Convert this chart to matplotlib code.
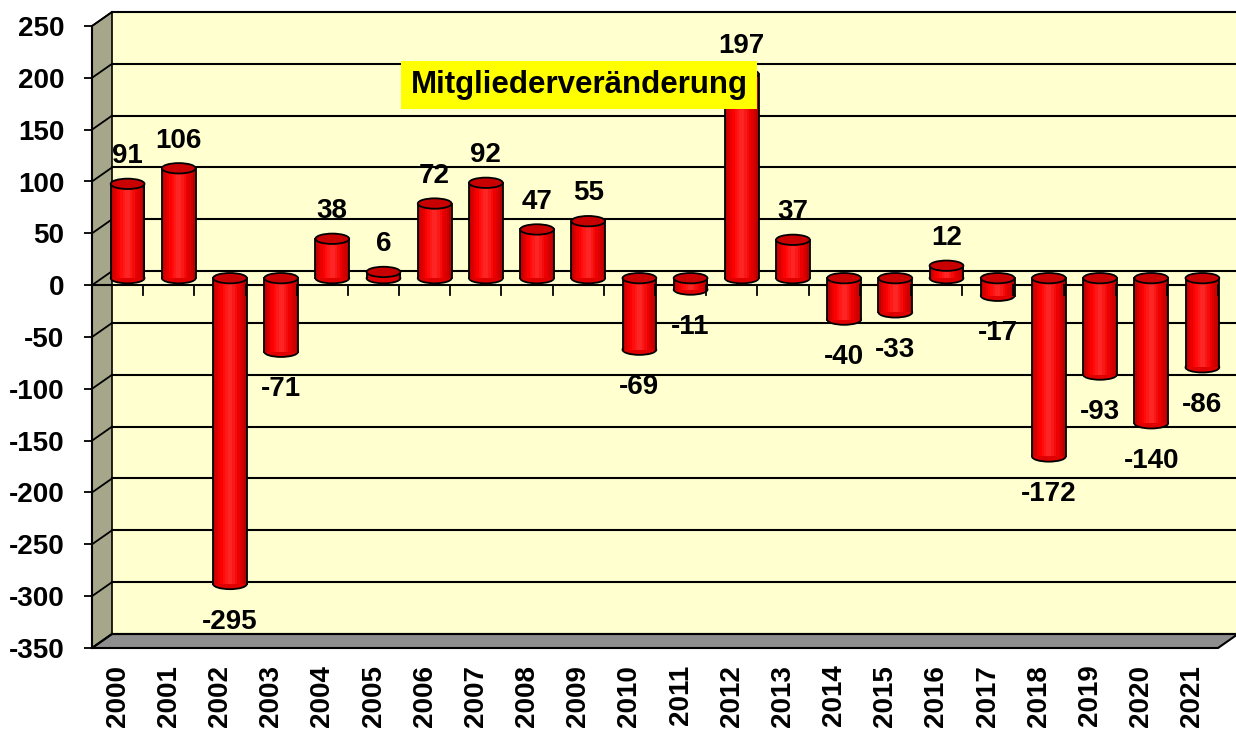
import matplotlib
matplotlib.use("Agg")
import matplotlib.pyplot as plt
from matplotlib.patches import Rectangle, Ellipse, Polygon
from matplotlib.transforms import ScaledTranslation, IdentityTransform
from matplotlib.colors import LinearSegmentedColormap

# Daten
jahre = [str(j) for j in range(2000, 2022)]
werte = [91, 106, -295, -71, 38, 6, 72, 92, 47, 55, -69, -11, 197, 37, -40, -33, 12, -17, -172, -93, -140, -86]
y_ticks = list(range(-350, 251, 50))
titel = "Mitgliederveränderung"

plt.rcParams['font.family'] = ['Liberation Sans', 'DejaVu Sans']
plt.rcParams['font.weight'] = 'bold'
fs = 20

W, H = 1236, 730
fig = plt.figure(figsize=(W / 100, H / 100), dpi=100)
ax = fig.add_axes([92 / W, 82 / H, (1218 - 92) / W, (648 - 26) / H])
ax.set_xlim(-0.5, len(jahre) - 0.5)
ax.set_ylim(-350, 250)
ax.set_facecolor('none')

# 3D-Tiefe: hinten und Mitte (Säulen)
hinten = ax.transData + ScaledTranslation(0.20, 0.14, fig.dpi_scale_trans)
mitte = ax.transData + ScaledTranslation(0.10, 0.07, fig.dpi_scale_trans)

def disp(x, y, t):
    return t.transform((x, y))

x0, x1 = -0.5, len(jahre) - 0.5
y0, y1 = -350, 250
wand = '#FFFFD0'

# Rückwand
ax.add_patch(Rectangle((x0, y0), x1 - x0, y1 - y0, transform=hinten, facecolor=wand,
                       edgecolor='none', clip_on=False, zorder=0))
# Seitenwand links
seite = [disp(x0, y1, ax.transData), disp(x0, y1, hinten), disp(x0, y0, hinten), disp(x0, y0, ax.transData)]
ax.add_patch(Polygon(seite, closed=True, transform=IdentityTransform(), facecolor='#A6A68A',
                     edgecolor='black', lw=1.2, clip_on=False, zorder=1))
# Boden
boden = [disp(x0, y0, ax.transData), disp(x1, y0, ax.transData), disp(x1, y0, hinten), disp(x0, y0, hinten)]
ax.add_patch(Polygon(boden, closed=True, transform=IdentityTransform(), facecolor='#8E8E8E',
                     edgecolor='black', lw=1.5, clip_on=False, zorder=1))

# Gitterlinien hinten + Diagonalen auf der Seitenwand
for v in y_ticks:
    ax.plot([x0, x1], [v, v], color='black', lw=1.5, transform=hinten, clip_on=False, zorder=1)
    a = disp(x0, v, ax.transData)
    b = disp(x0, v, hinten)
    ax.plot([a[0], b[0]], [a[1], b[1]], color='black', lw=1.3, transform=IdentityTransform(),
            clip_on=False, zorder=2)

# Nulllinie vorne
ax.plot([x0, x1], [0, 0], color='black', lw=1.5, zorder=2, clip_on=False)

# Säulen (Zylinder)
breite = 0.66
eh = 10
cmap = LinearSegmentedColormap.from_list('rot', ['#B80000', '#FF0000', '#FF2A2A', '#F00000', '#B00000'])
n_streifen = 14
for i, v in enumerate(werte):
    unten = min(0, v)
    oben = max(0, v)
    links = i - breite / 2
    ax.add_patch(Ellipse((i, unten), breite, eh, transform=mitte, facecolor='#E00000',
                         edgecolor='black', lw=1.3, zorder=3, clip_on=False))
    sw = breite / n_streifen
    for k in range(n_streifen):
        ax.add_patch(Rectangle((links + k * sw, unten), sw * 1.05, oben - unten, transform=mitte,
                               facecolor=cmap((k + 0.5) / n_streifen), edgecolor='none',
                               zorder=4, clip_on=False))
    ax.plot([links, links], [unten, oben], color='black', lw=1.3, transform=mitte, zorder=5, clip_on=False)
    ax.plot([links + breite] * 2, [unten, oben], color='black', lw=1.3, transform=mitte, zorder=5, clip_on=False)
    ax.add_patch(Ellipse((i, oben), breite, eh, transform=mitte, facecolor='#C80000',
                         edgecolor='black', lw=1.3, zorder=6, clip_on=False))
    if v >= 0:
        off = (7.2, 25)
    else:
        off = (7.2, -22)
    ax.annotate(str(v), xy=(i, v), xytext=off, textcoords='offset points', ha='center', va='center',
                fontsize=fs, fontweight='bold', zorder=8, annotation_clip=False)

# Teilstriche an der Nulllinie
for i in range(1, len(jahre) + 1):
    a = disp(i - 0.5, 0, ax.transData)
    ax.plot([a[0], a[0]], [a[1], a[1] - 10], color='black', lw=1.3, transform=IdentityTransform(),
            zorder=7, clip_on=False)

# Achsen
for s in ['top', 'right', 'bottom']:
    ax.spines[s].set_visible(False)
ax.spines['left'].set_linewidth(1.5)
ax.spines['left'].set_zorder(2)
ax.set_yticks(y_ticks)
ax.set_yticklabels([str(t) for t in y_ticks], fontsize=fs, fontweight='bold')
ax.tick_params(axis='y', length=6, width=1.3, pad=14)
ax.set_xticks(range(len(jahre)))
ax.set_xticklabels(jahre, rotation=90, fontsize=fs, fontweight='bold')
ax.tick_params(axis='x', length=0, pad=12)

# Titel im gelben Kasten
fig.text(579 / W, 1 - 85 / H, titel, ha='center', va='center', fontsize=22.5, fontweight='bold',
         bbox=dict(boxstyle='square,pad=0.3', facecolor='#FFFF00', edgecolor='none'), zorder=10)

fig.savefig('out.png', dpi=100)
